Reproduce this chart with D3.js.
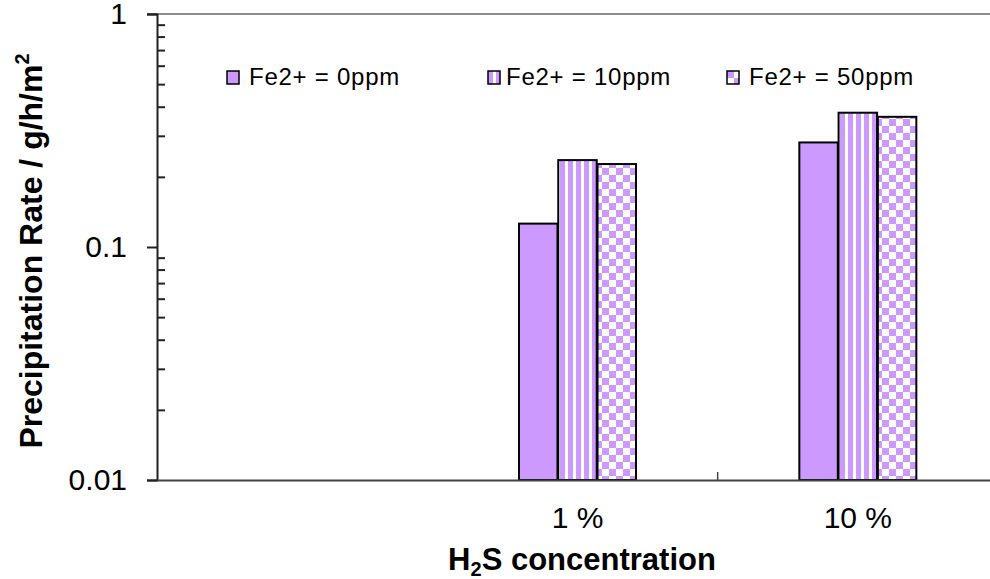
<!DOCTYPE html>
<html><head><meta charset="utf-8">
<script src="https://cdn.jsdelivr.net/npm/d3@7"></script>
<style>body{margin:0;background:#fff;overflow:hidden} svg{display:block}</style>
</head><body>
<script>
// ---- data ----
const categories = ["", "1 %", "10 %"];
const seriesNames = ["Fe2+ = 0ppm", "Fe2+ = 10ppm", "Fe2+ = 50ppm"];
const fe0ppm  = [null, 0.126, 0.281];
const fe10ppm = [null, 0.236, 0.377];
const fe50ppm = [null, 0.227, 0.362];
const yMajorTicks = [0.01, 0.1, 1];
const yTickLabels = ["0.01", "0.1", "1"];

const seriesValues = [fe0ppm, fe10ppm, fe50ppm];

// ---- layout ----
const W = 990, H = 579;
const plotLeft = 157, plotRight = 998, plotTop = 14, plotBottom = 480;
const purple = "#CC99FF";
const font = "'Liberation Sans', Arial, sans-serif";

const svg = d3.select("body").append("svg").attr("width", W).attr("height", H);

const defs = svg.append("defs");
const stripes = defs.append("pattern").attr("id", "stripes").attr("patternUnits", "userSpaceOnUse")
  .attr("width", 8).attr("height", 8);
stripes.append("rect").attr("width", 8).attr("height", 8).attr("fill", "#fff");
stripes.append("rect").attr("width", 5).attr("height", 8).attr("fill", purple);
const checks = defs.append("pattern").attr("id", "checks").attr("patternUnits", "userSpaceOnUse")
  .attr("width", 14).attr("height", 14);
checks.append("rect").attr("width", 14).attr("height", 14).attr("fill", "#fff");
checks.append("rect").attr("width", 7).attr("height", 7).attr("fill", purple);
checks.append("rect").attr("x", 7).attr("y", 7).attr("width", 7).attr("height", 7).attr("fill", purple);
const fills = [purple, "url(#stripes)", "url(#checks)"];

const x = d3.scaleBand().domain(categories).range([plotLeft, plotRight]).padding(0);
const groupW = 117;
const x1 = d3.scaleBand().domain(seriesNames).range([0, groupW]).paddingInner(0.02);
const y = d3.scaleLog().domain([0.01, 1]).range([plotBottom, plotTop]);

// top gridline at 1
svg.append("line").attr("x1", plotLeft - 10).attr("x2", W).attr("y1", y(1)).attr("y2", y(1))
  .attr("stroke", "#8c8c8c").attr("stroke-width", 2);

// bars
const rows = [];
categories.forEach((c, i) => seriesNames.forEach((s, j) => {
  const v = seriesValues[j][i];
  if (v != null) rows.push({c, s, j, v});
}));
svg.append("g").selectAll("rect").data(rows).join("rect")
  .attr("x", d => x(d.c) + (x.bandwidth() - groupW) / 2 + x1(d.s))
  .attr("width", x1.bandwidth())
  .attr("y", d => y(d.v))
  .attr("height", d => y(0.01) - y(d.v))
  .attr("fill", d => fills[d.j])
  .attr("stroke", "#000").attr("stroke-width", 2);

// y axis: majors outward
const yAxis = d3.axisLeft(y).tickValues(yMajorTicks).tickSize(10).tickPadding(20)
  .tickFormat((d, i) => yTickLabels[i]);
const gy = svg.append("g").attr("transform", `translate(${plotLeft},0)`).call(yAxis);
gy.select(".domain").attr("stroke", "#222").attr("stroke-width", 2);
gy.selectAll(".tick line").attr("stroke", "#222").attr("stroke-width", 2);
gy.selectAll(".tick text").attr("font-family", font).attr("font-size", 30).attr("fill", "#000");

// minor ticks inward
const minors = y.ticks().filter(t => !yMajorTicks.some(m => Math.abs(m - t) < 1e-9));
const gym = svg.append("g").attr("transform", `translate(${plotLeft},0)`)
  .call(d3.axisRight(y).tickValues(minors).tickSize(8).tickFormat(""));
gym.select(".domain").remove();
gym.selectAll(".tick line").attr("stroke", "#222").attr("stroke-width", 2);

// x axis
const gx = svg.append("g").attr("transform", `translate(0,${plotBottom})`)
  .call(d3.axisBottom(x).tickSize(0).tickPadding(27));
gx.select(".domain").attr("stroke", "#444").attr("stroke-width", 2);
gx.selectAll(".tick text").attr("font-family", font).attr("font-size", 30).attr("fill", "#000");
// category boundary ticks (inside), between labelled categories
const bounds = categories.slice(2).map(c => x(c));
gx.selectAll(".btick").data(bounds).join("line").attr("class", "btick")
  .attr("x1", d => d).attr("x2", d => d).attr("y1", 0).attr("y2", -8)
  .attr("stroke", "#444").attr("stroke-width", 1.5);

// legend
const legendX = [227, 488, 727];
const legendTextDx = [22, 18, 22];
const lg = svg.append("g").selectAll("g").data(seriesNames).join("g")
  .attr("transform", (d, i) => `translate(${legendX[i]},71)`);
lg.append("rect").attr("width", 12).attr("height", 13)
  .attr("fill", (d, i) => fills[i]).attr("stroke", "#000").attr("stroke-width", 1.5);
lg.append("text").attr("x", (d, i) => legendTextDx[i]).attr("y", 14).text(d => d)
  .attr("font-family", font).attr("font-size", 24).attr("letter-spacing", 0.75).attr("fill", "#000");

// axis titles
const xt = svg.append("text").attr("x", 582).attr("y", 570).attr("text-anchor", "middle")
  .attr("font-family", font).attr("font-size", 31).attr("font-weight", "bold");
xt.append("tspan").text("H");
xt.append("tspan").text("2").attr("font-size", 20).attr("dy", 6);
xt.append("tspan").text("S concentration").attr("dy", -6);

const yt = svg.append("text").attr("transform", "translate(42,251) rotate(-90)")
  .attr("text-anchor", "middle")
  .attr("font-family", font).attr("font-size", 32).attr("font-weight", "bold");
yt.append("tspan").text("Precipitation Rate / g/h/m");
yt.append("tspan").text("2").attr("font-size", 20).attr("dy", -13);
</script>
</body></html>
